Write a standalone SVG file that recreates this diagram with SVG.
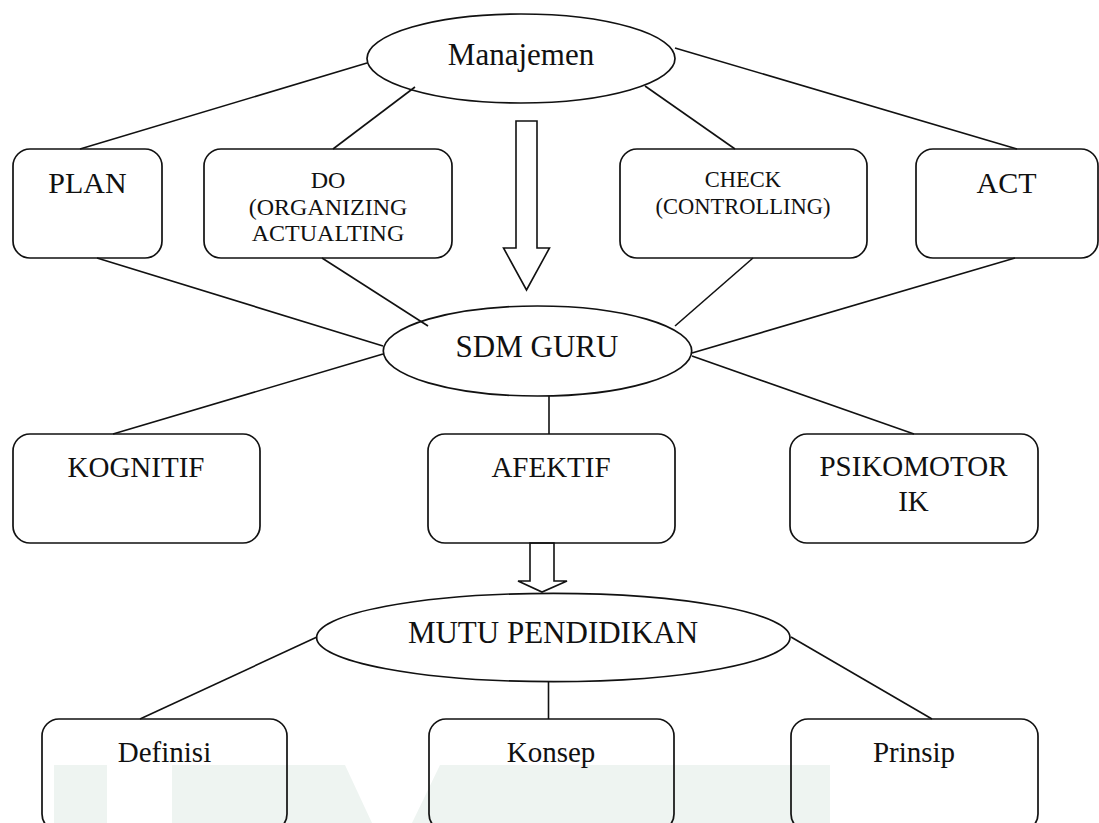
<svg xmlns="http://www.w3.org/2000/svg" width="1099" height="823" viewBox="0 0 1099 823" font-family="'Liberation Serif', 'DejaVu Serif', serif">
<style>
.box{fill:none;stroke:#111;stroke-width:1.7}
.ell{fill:none;stroke:#111;stroke-width:1.7}
.ln{stroke:#111;stroke-width:1.6;fill:none}
.arr{fill:#ffffff;stroke:#111;stroke-width:1.6;stroke-linejoin:miter}
.t{font-family:'Liberation Serif','DejaVu Serif',serif;fill:#111;text-anchor:middle}
.big{font-size:30px}
.ebig{font-size:31px}
.mid{font-size:24px}
.sm{font-size:22.5px}
.lo{font-size:29px}
.wm{fill:#eef4f1}
</style>
<rect width="1099" height="823" fill="#ffffff"/>
<g id="watermark">
<rect class="wm" x="54" y="765" width="53" height="58"/>
<polygon class="wm" points="172,765 345,765 372,823 172,823"/>
<polygon class="wm" points="440,765 830,765 830,823 412,823"/>
</g>
<g id="connectors">
<line class="ln" x1="367" y1="63" x2="80" y2="149"/>
<line class="ln" x1="415" y1="87" x2="333" y2="149"/>
<line class="ln" x1="645" y1="86" x2="735" y2="149"/>
<line class="ln" x1="675" y1="48" x2="1017" y2="149"/>
<line class="ln" x1="97" y1="258" x2="383" y2="346"/>
<line class="ln" x1="322" y1="258" x2="428" y2="326"/>
<line class="ln" x1="753" y1="258" x2="675" y2="326"/>
<line class="ln" x1="1015" y1="258" x2="692" y2="353"/>
<line class="ln" x1="383" y1="354" x2="113" y2="434"/>
<line class="ln" x1="549" y1="396" x2="549" y2="434"/>
<line class="ln" x1="692" y1="356" x2="914" y2="434"/>
<line class="ln" x1="317" y1="637" x2="140" y2="719"/>
<line class="ln" x1="548.5" y1="682" x2="548.5" y2="719"/>
<line class="ln" x1="791" y1="637" x2="932" y2="719"/>
<polygon class="arr" points="516,121 537,121 537,248 549.5,248 526.5,290 503.5,248 516,248"/>
<polygon class="arr" points="530,543 554,543 554,581 567,581 542,592 518,581 530,581"/>
</g>
<g id="n-manajemen">
<ellipse class="ell" cx="521" cy="58.5" rx="154" ry="44.5"/>
<text class="t ebig" x="521" y="65">Manajemen</text>
</g>
<g id="n-plan">
<rect class="box" x="13" y="149" width="149" height="109" rx="17"/>
<text class="t big" x="87.5" y="193">PLAN</text>
</g>
<g id="n-do">
<rect class="box" x="204" y="149" width="248" height="109" rx="17"/>
<text class="t mid" x="328" y="188">DO</text>
<text class="t mid" x="328" y="214.5">(ORGANIZING</text>
<text class="t mid" x="328" y="241">ACTUALTING</text>
</g>
<g id="n-check">
<rect class="box" x="620" y="149" width="247" height="109" rx="17"/>
<text class="t sm" x="743" y="187">CHECK</text>
<text class="t sm" x="743" y="214">(CONTROLLING)</text>
</g>
<g id="n-act">
<rect class="box" x="916" y="149" width="182" height="109" rx="17"/>
<text class="t big" x="1006.5" y="193">ACT</text>
</g>
<g id="n-sdm">
<ellipse class="ell" cx="537.5" cy="351" rx="154.2" ry="45"/>
<text class="t ebig" x="537" y="356.5">SDM GURU</text>
</g>
<g id="n-kognitif">
<rect class="box" x="13" y="434" width="247" height="109" rx="17"/>
<text class="t lo" x="136" y="477">KOGNITIF</text>
</g>
<g id="n-afektif">
<rect class="box" x="428" y="434" width="247" height="109" rx="17"/>
<text class="t lo" x="551" y="477">AFEKTIF</text>
</g>
<g id="n-psikomotorik">
<rect class="box" x="790" y="434" width="248" height="109" rx="17"/>
<text class="t lo" x="913.5" y="476">PSIKOMOTOR</text>
<text class="t lo" x="913.5" y="511">IK</text>
</g>
<g id="n-mutu">
<ellipse class="ell" cx="553.3" cy="637.5" rx="236.7" ry="44.2"/>
<text class="t ebig" x="553" y="643">MUTU PENDIDIKAN</text>
</g>
<g id="n-definisi">
<rect class="box" x="42" y="719" width="245" height="112" rx="17"/>
<text class="t lo" x="164.5" y="761.5">Definisi</text>
</g>
<g id="n-konsep">
<rect class="box" x="429" y="719" width="245" height="112" rx="17"/>
<text class="t lo" x="551" y="761.5">Konsep</text>
</g>
<g id="n-prinsip">
<rect class="box" x="791" y="719" width="247" height="112" rx="17"/>
<text class="t lo" x="914" y="761.5">Prinsip</text>
</g>
</svg>
